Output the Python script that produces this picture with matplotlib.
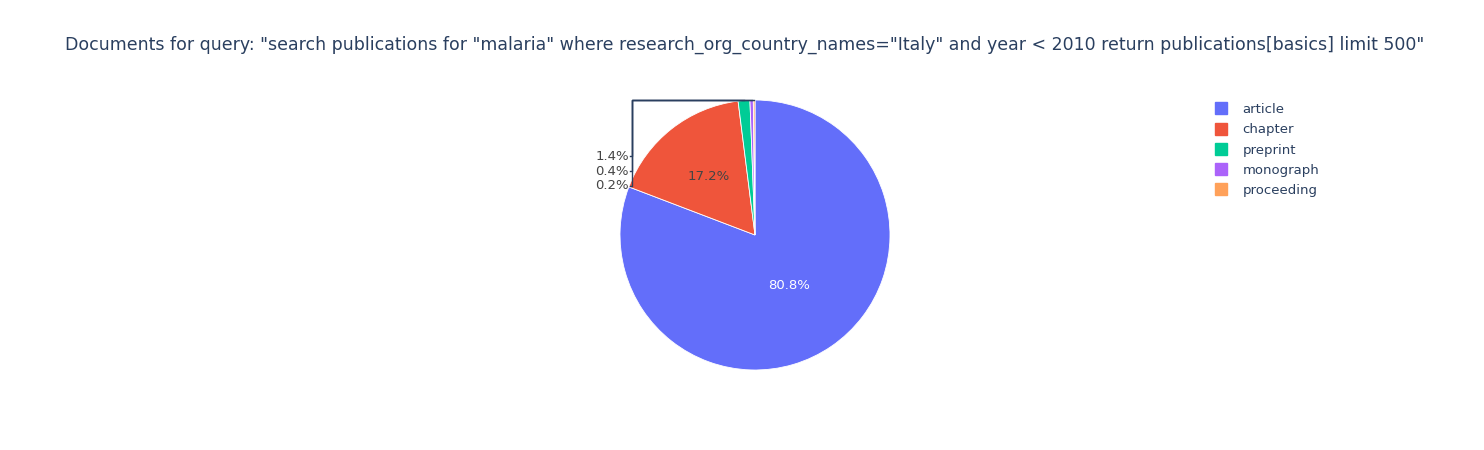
import numpy as np
import matplotlib
matplotlib.use("Agg")
import matplotlib.pyplot as plt
from matplotlib.lines import Line2D

labels = ["article", "chapter", "preprint", "monograph", "proceeding"]
values = [404, 86, 7, 2, 1]
colors = ["#636efa", "#EF553B", "#00cc96", "#ab63fa", "#FFA15A"]
title = 'Documents for query: "search publications for "malaria" where research_org_country_names="Italy" and year < 2010 return publications[basics] limit 500"'

W, H = 1484, 450
fig = plt.figure(figsize=(W/100, H/100), dpi=100)
cx, cy, r = 755, 235, 135
ax = fig.add_axes([(cx-r)/W, (H-cy-r)/H, 2*r/W, 2*r/H])
wedges, _ = ax.pie(values, colors=colors, startangle=90, counterclock=False,
                   radius=1, wedgeprops=dict(edgecolor="white", linewidth=0.6))
ax.set_xlim(-1, 1); ax.set_ylim(-1, 1); ax.set_aspect("equal"); ax.axis("off")

total = sum(values)
ink = "#2a3f5f"
outside_y = [0.585, 0.474, 0.363]
k = 0
for w, v in zip(wedges, values):
    pct = 100*v/total
    ang = np.deg2rad((w.theta1+w.theta2)/2)
    txt = f"{pct:.1f}%"
    if pct > 5:
        rr = 0.55 if pct < 50 else 0.45
        ax.text(rr*np.cos(ang), rr*np.sin(ang)-(0.0 if pct < 50 else 0.0), txt,
                ha="center", va="center", fontsize=9.5,
                color="white" if pct > 50 else "#444444")
    else:
        ex, ey = np.cos(ang), np.sin(ang)
        ty = outside_y[k]; k += 1
        ax.text(-0.935, ty, txt, ha="right", va="center", fontsize=9.5, color="#444444", clip_on=False)
        ax.plot([-0.925, -0.91, -0.91, ex], [ty, ty, ey, ey] if abs(ty-ey) > 0.02 else [ty, ty, ty, ey],
                color=ink, lw=1, clip_on=False)

fig.text(745/W, 1-45/H, title, ha="center", va="center", fontsize=12.5, color=ink)

handles = [Line2D([], [], marker="s", linestyle="none", markersize=9,
                  markerfacecolor=c, markeredgecolor=c) for c in colors]
fig.legend(handles, labels, loc="upper left", bbox_to_anchor=(1208/W, 1-103/H),
           frameon=False, fontsize=9.5, labelcolor=ink, handletextpad=0.6,
           labelspacing=0.55, borderaxespad=0, borderpad=0)
fig.savefig("out.png", dpi=100, facecolor="white")
